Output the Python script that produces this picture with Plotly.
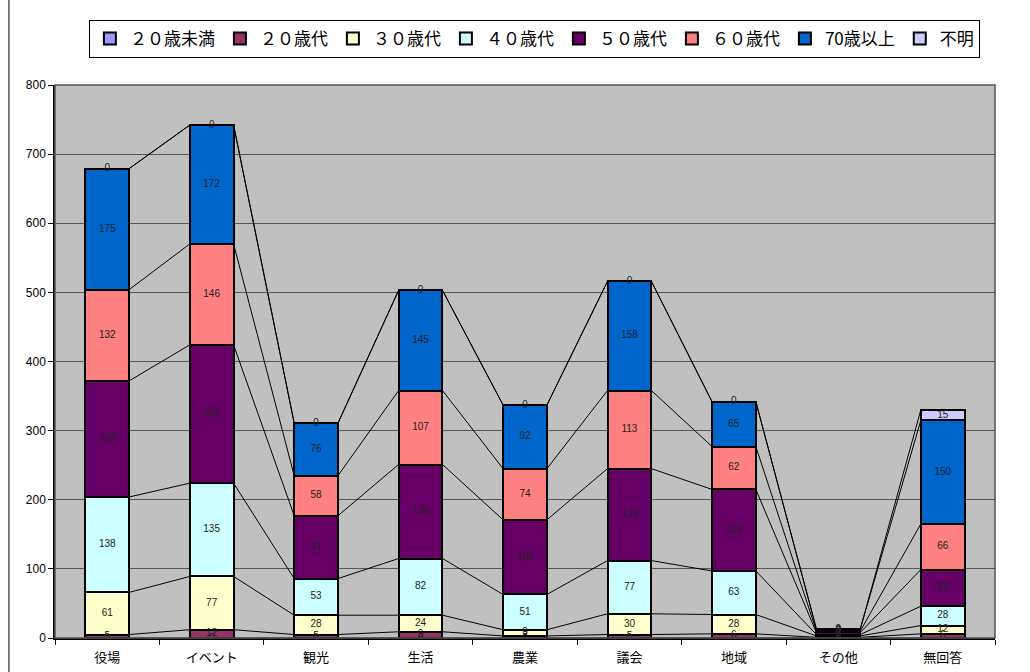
import plotly.graph_objects as go

# Categories (x axis) and age-group series
categories = ["役場", "イベント", "観光", "生活", "農業", "議会", "地域", "その他", "無回答"]

series_names = ["２０歳未満", "２０歳代", "３０歳代", "４０歳代", "５０歳代", "６０歳代", "70歳以上", "不明"]

under20 = [0, 0, 0, 0, 0, 0, 0, 0, 0]
age20s = [5, 12, 5, 9, 3, 5, 6, 1, 6]
age30s = [61, 77, 28, 24, 9, 30, 28, 2, 12]
age40s = [138, 135, 53, 82, 51, 77, 63, 2, 28]
age50s = [168, 200, 91, 136, 108, 133, 118, 3, 53]
age60s = [132, 146, 58, 107, 74, 113, 62, 2, 66]
age70plus = [175, 172, 76, 145, 92, 158, 65, 3, 150]
unknown = [0, 0, 0, 0, 0, 0, 0, 0, 15]

series_values = [under20, age20s, age30s, age40s, age50s, age60s, age70plus, unknown]
series_colors = ["#9999FF", "#993366", "#FFFFCC", "#CCFFFF", "#660066", "#FF8080", "#0066CC", "#CCCCFF"]

y_ticks = [0, 100, 200, 300, 400, 500, 600, 700, 800]

BAR_W = 0.42
xpos = list(range(len(categories)))

fig = go.Figure()

# Stacked bars
for name, vals, col in zip(series_names, series_values, series_colors):
    fig.add_trace(go.Bar(
        x=xpos, y=vals, name=name, width=BAR_W,
        marker=dict(color=col, line=dict(color="black", width=2)),
        hoverinfo="skip",
    ))

# Cumulative levels for series lines and value labels
cum = [0] * len(categories)
label_x, label_y, label_t = [], [], []
for vals in series_values:
    base = cum[:]
    cum = [b + v for b, v in zip(base, vals)]
    for i, v in enumerate(vals):
        label_x.append(i)
        label_y.append(base[i] + v / 2)
        label_t.append(str(v))
    # series lines joining the top edge of this segment between neighbouring bars
    lx, ly = [], []
    for i in range(len(categories) - 1):
        lx += [i + BAR_W / 2, i + 1 - BAR_W / 2, None]
        ly += [cum[i], cum[i + 1], None]
    fig.add_trace(go.Scatter(
        x=lx, y=ly, mode="lines", line=dict(color="black", width=1),
        showlegend=False, hoverinfo="skip",
    ))

# Value labels
fig.add_trace(go.Scatter(
    x=label_x, y=label_y, text=label_t, mode="text",
    textfont=dict(family="Liberation Sans, Arial", size=10, color="#222222"),
    showlegend=False, hoverinfo="skip",
))

fig.update_layout(
    barmode="stack",
    width=1030, height=672,
    margin=dict(l=55, r=35, t=85, b=34),
    paper_bgcolor="white",
    plot_bgcolor="#C0C0C0",
    font=dict(family="Noto Sans CJK JP", color="black"),
    legend=dict(
        orientation="h", traceorder="normal",
        x=0.51, xanchor="center", y=1.1175, yanchor="top",
        bordercolor="black", borderwidth=1, bgcolor="white",
        font=dict(family="Noto Sans CJK JP", size=17),
        itemwidth=30, tracegroupgap=0,
    ),
    xaxis=dict(
        range=[-0.5, len(categories) - 0.5],
        tickvals=xpos, ticktext=categories, ticks="",
        tickfont=dict(family="Noto Sans CJK JP", size=13),
        ticklabelstandoff=6, automargin=False,
        showgrid=False, zeroline=False,
        showline=True, linecolor="black", linewidth=2, mirror=False,
        minor=dict(tick0=0.5, dtick=1, ticks="outside", ticklen=5, tickcolor="black", showgrid=False),
    ),
    yaxis=dict(
        range=[0, 800], tickvals=y_ticks, ticks="outside", ticklen=5, tickcolor="black",
        tickfont=dict(family="Liberation Sans, Arial", size=12),
        automargin=False,
        showgrid=True, gridcolor="#555555", gridwidth=1, zeroline=False,
        showline=True, linecolor="black", linewidth=1.5,
    ),
    shapes=[
        dict(type="rect", xref="paper", yref="paper", x0=0, x1=1, y0=0, y1=1,
             line=dict(color="#555555", width=1.5), layer="above"),
        dict(type="line", xref="paper", yref="paper", x0=-0.049, x1=-0.049, y0=-0.07, y1=1.16,
             line=dict(color="black", width=1)),
    ],
)

fig.write_html("out.html")
